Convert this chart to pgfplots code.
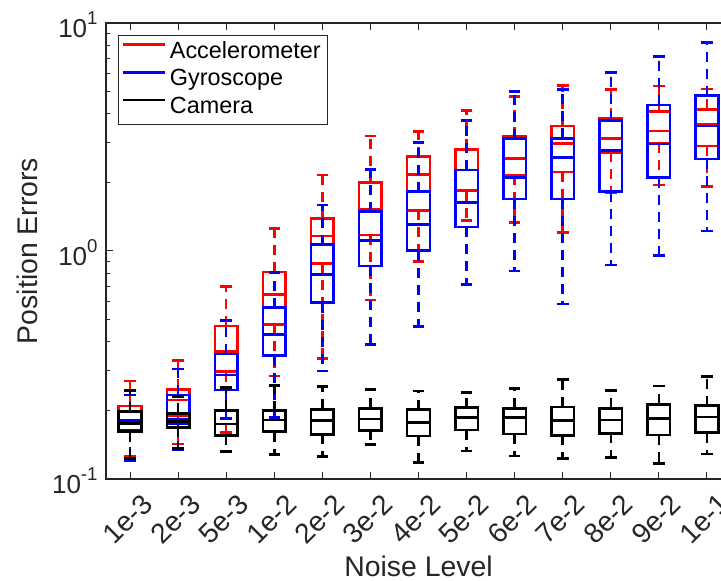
\documentclass[border=0pt]{standalone}
\usepackage{fontspec}
\setmainfont{Liberation Sans}
\usepackage{pgfplots}
\usepgfplotslibrary{statistics}
\pgfplotsset{compat=1.18}
\definecolor{axgray}{rgb}{0.15,0.15,0.15}
\newcommand{\tenpow}[1]{10\raisebox{6.35pt}{\fontsize{9.3}{10}\selectfont #1}}
% #1 colour, #2 position, #3 lower whisker, #4 lower quartile, #5 median, #6 upper quartile, #7 upper whisker
\newcommand{\bx}[7]{\addplot[#1, line width=1.25pt,
  boxplot prepared={draw position=#2, lower whisker=#3, lower quartile=#4,
  median=#5, upper quartile=#6, upper whisker=#7}] coordinates {};}

\pgfplotsset{
  boxplot/draw direction=y,
  boxplot/box extend=0.47,
  boxplot/whisker extend=0.24,
  boxplot/every box/.style={line width=1.25pt},
  boxplot/every whisker/.style={line width=1.25pt},
  boxplot/draw/median/.code={%
    \draw[line width=1.35pt]
      (boxplot box cs:\pgfplotsboxplotvalue{median},0) --
      (boxplot box cs:\pgfplotsboxplotvalue{median},1);
  },
  boxplot/draw/lower whisker/.code={%
    \draw[/pgfplots/boxplot/every whisker/.try, dash pattern=on 5pt off 3.5pt]
      (boxplot cs:\pgfplotsboxplotvalue{lower quartile}) --
      (boxplot cs:\pgfplotsboxplotvalue{lower whisker});
    \draw[/pgfplots/boxplot/every whisker/.try, solid]
      (boxplot whisker cs:\pgfplotsboxplotvalue{lower whisker},0) --
      (boxplot whisker cs:\pgfplotsboxplotvalue{lower whisker},1);
  },
  boxplot/draw/upper whisker/.code={%
    \draw[/pgfplots/boxplot/every whisker/.try, dash pattern=on 5pt off 3.5pt]
      (boxplot cs:\pgfplotsboxplotvalue{upper quartile}) --
      (boxplot cs:\pgfplotsboxplotvalue{upper whisker});
    \draw[/pgfplots/boxplot/every whisker/.try, solid]
      (boxplot whisker cs:\pgfplotsboxplotvalue{upper whisker},0) --
      (boxplot whisker cs:\pgfplotsboxplotvalue{upper whisker},1);
  },
}

\begin{document}
\begin{tikzpicture}
\begin{axis}[
  at={(0,0)}, anchor=south west,
  scale only axis, width=312.5pt, height=228pt,
  xmin=0.5, xmax=13.5,
  ymode=log, ymin=0.1, ymax=10,
  xtick={1,...,13},
  xticklabels={1e-3,2e-3,5e-3,1e-2,2e-2,3e-2,4e-2,5e-2,6e-2,7e-2,8e-2,9e-2,1e-1},
  ytick={0.1,1,10},
  yticklabels={\tenpow{-1},\tenpow{0},\tenpow{1}},
  minor ytick={0.2,0.3,0.4,0.5,0.6,0.7,0.8,0.9,2,3,4,5,6,7,8,9},
  tick align=inside,
  major tick length=3.5pt, minor tick length=2.2pt,
  every tick/.style={axgray, line width=0.5pt},
  axis line style={axgray, line width=0.6pt},
  ticklabel style={font=\fontsize{13}{15}\selectfont, text=axgray},
  xticklabel style={font=\fontsize{14}{16}\selectfont, anchor=center, xshift=-1.3pt, yshift=-20pt, rotate=45},
  yticklabel style={anchor=base east, xshift=-0.7pt, yshift=-7.2pt},
  xlabel={Noise Level}, ylabel={Position Errors},
  label style={font=\fontsize{14.2}{17}\selectfont, text=axgray},
  xlabel style={at={(axis description cs:0.5,-0.2149)}, anchor=base},
  ylabel style={at={(axis description cs:-0.1099,0.5)}, anchor=base},
  legend style={at={(axis description cs:0,1)}, anchor=north west,
    xshift=6.15pt, yshift=-6pt, draw=axgray, line width=0.5pt,
    inner xsep=1.5pt, inner ysep=1.5pt,
    font=\fontsize{11.7}{14}\selectfont, row sep=0pt,
    nodes={inner xsep=1.8pt, inner ysep=1.3pt, text height=8.6pt, text depth=2.6pt}},
  legend image code/.code={\draw[#1, line width=1.25pt] (0pt,3.8pt) -- (21pt,3.8pt);},
  legend cell align=left,
]
\addlegendimage{red}
\addlegendimage{blue}
\addlegendimage{black}

% Accelerometer
\bx{red}{1}{0.1262}{0.1624}{0.1743}{0.2090}{0.2690}
\bx{red}{2}{0.1424}{0.1889}{0.2221}{0.2474}{0.3303}
\bx{red}{3}{0.1596}{0.2955}{0.3617}{0.4690}{0.7002}
\bx{red}{4}{0.2830}{0.4770}{0.6432}{0.8089}{1.258}
\bx{red}{5}{0.3383}{0.8832}{1.1636}{1.388}{2.150}
\bx{red}{6}{0.6097}{1.1754}{1.5205}{1.997}{3.194}
\bx{red}{7}{0.8977}{1.5083}{2.1588}{2.592}{3.350}
\bx{red}{8}{1.3631}{1.8385}{2.2665}{2.7925}{4.125}
\bx{red}{9}{1.331}{2.1544}{2.551}{3.172}{4.751}
\bx{red}{10}{1.208}{2.2211}{2.968}{3.533}{5.309}
\bx{red}{11}{1.8016}{2.7098}{3.121}{3.819}{5.119}
\bx{red}{12}{1.9478}{2.977}{3.360}{4.083}{5.293}
\bx{red}{13}{1.9143}{2.8874}{3.595}{4.183}{5.134}
% Gyroscope
\bx{blue}{1}{0.1199}{0.1640}{0.1805}{0.1967}{0.2336}
\bx{blue}{2}{0.1340}{0.1743}{0.1833}{0.2336}{0.3037}
\bx{blue}{3}{0.1846}{0.2457}{0.2858}{0.3534}{0.4957}
\bx{blue}{4}{0.1861}{0.3474}{0.4311}{0.5641}{0.8048}
\bx{blue}{5}{0.2976}{0.5932}{0.787}{1.0656}{1.5915}
\bx{blue}{6}{0.3898}{0.8594}{1.1098}{1.4874}{2.282}
\bx{blue}{7}{0.4656}{1.003}{1.3094}{1.820}{2.991}
\bx{blue}{8}{0.7145}{1.2717}{1.6272}{2.2665}{3.728}
\bx{blue}{9}{0.8172}{1.6907}{2.105}{3.109}{4.996}
\bx{blue}{10}{0.5855}{1.6907}{2.566}{3.121}{5.119}
\bx{blue}{11}{0.8682}{1.820}{2.754}{3.728}{6.053}
\bx{blue}{12}{0.9537}{2.097}{2.946}{4.369}{7.115}
\bx{blue}{13}{1.2237}{2.532}{3.533}{4.799}{8.195}
% Camera
\bx{black}{1}{0.1233}{0.1613}{0.1752}{0.1973}{0.2449}
\bx{black}{2}{0.1363}{0.1686}{0.1784}{0.1941}{0.2305}
\bx{black}{3}{0.1317}{0.1552}{0.1743}{0.2001}{0.2525}
\bx{black}{4}{0.1278}{0.1613}{0.1815}{0.1993}{0.2571}
\bx{black}{5}{0.1253}{0.1571}{0.1802}{0.2021}{0.2550}
\bx{black}{6}{0.1420}{0.1635}{0.1833}{0.2042}{0.2464}
\bx{black}{7}{0.1183}{0.1544}{0.1765}{0.2013}{0.2432}
\bx{black}{8}{0.1327}{0.1640}{0.1865}{0.2054}{0.2390}
\bx{black}{9}{0.1262}{0.1576}{0.1865}{0.2042}{0.2500}
\bx{black}{10}{0.1233}{0.1555}{0.1802}{0.2069}{0.2737}
\bx{black}{11}{0.1240}{0.1586}{0.1815}{0.2042}{0.2449}
\bx{black}{12}{0.1172}{0.1560}{0.1839}{0.2126}{0.2558}
\bx{black}{13}{0.1287}{0.1596}{0.1870}{0.2097}{0.2809}
\legend{Accelerometer,Gyroscope,Camera}
\end{axis}
\pgfresetboundingbox
\path[use as bounding box] (-53pt,-51pt) rectangle (307.5pt,239.5pt);
\end{tikzpicture}
\end{document}
